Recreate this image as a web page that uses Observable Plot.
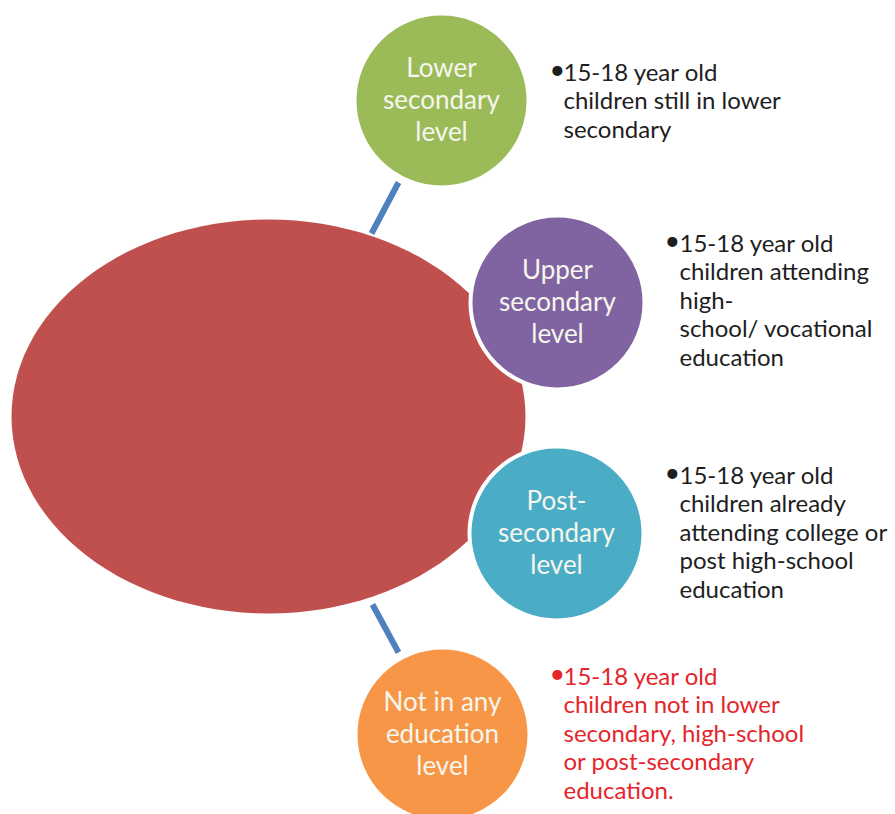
<!DOCTYPE html>
<html>
<head>
<meta charset="utf-8">
<script src="https://cdn.jsdelivr.net/npm/d3@7"></script>
<script src="https://cdn.jsdelivr.net/npm/@observablehq/plot@0.6"></script>
<style>
  html, body { margin: 0; padding: 0; background: #ffffff; }
  #chart svg { display: block; }
</style>
</head>
<body>
<div id="chart"></div>
<script>
// ---- content ----
const levels = ["Lower\nsecondary\nlevel", "Upper\nsecondary\nlevel", "Post-\nsecondary\nlevel", "Not in any\neducation\nlevel"];
const descriptions = [
  "15-18 year old\nchildren still in lower\nsecondary",
  "15-18 year old\nchildren attending\nhigh-\nschool/ vocational\neducation",
  "15-18 year old\nchildren already\nattending college or\npost high-school\neducation",
  "15-18 year old\nchildren not in lower\nsecondary, high-school\nor post-secondary\neducation."
];
const highlighted = [false, false, false, true];

// ---- layout (diagram geometry, kept apart from content) ----
const circleX = [441, 557, 556, 442];
const circleY = [100, 302, 533, 734];
const labelY = [98, 300, 531, 732];
const circleR = 87;
const circleColors = ["#9bbb59", "#8064a2", "#4bacc6", "#f79646"];
const bulletX = [549, 664, 664, 549];
const textX = [563, 679, 679, 563];
const textTop = [60, 231, 463, 664];
const hub = {cx: 268, cy: 416, rx: 257, ry: 197, color: "#c0504d"};
const connectors = [
  {x1: 371, y1: 233, x2: 398, y2: 182},
  {x1: 372, y1: 604, x2: 398, y2: 652}
];

const nodes = levels.map((label, i) => ({
  label, x: circleX[i], y: circleY[i], ly: labelY[i], color: circleColors[i],
  desc: descriptions[i], bx: bulletX[i], tx: textX[i], ty: textTop[i],
  tcolor: highlighted[i] ? "#e5252a" : "#1e1e1e"
}));

// ellipse outline for the hub shape
const hubPts = d3.range(0, 361, 3).map(a => {
  const t = a * Math.PI / 180;
  return {x: hub.cx + hub.rx * Math.cos(t), y: hub.cy + hub.ry * Math.sin(t)};
});

const FONT = "Lato, 'Open Sans', sans-serif";

const chart = Plot.plot({
  width: 895,
  height: 814,
  margin: 0,
  style: {fontFamily: FONT, background: "#ffffff"},
  x: {domain: [0, 895], range: [0, 895], axis: null},
  y: {domain: [0, 814], range: [0, 814], axis: null},
  r: {type: "identity"},
  marks: [
    Plot.line(hubPts, {x: "x", y: "y", fill: hub.color, stroke: "none"}),
    Plot.link(connectors, {x1: "x1", y1: "y1", x2: "x2", y2: "y2", stroke: "#4f81bd", strokeWidth: 6}),
    Plot.dot(nodes, {x: "x", y: "y", r: circleR, fill: "color", stroke: "#ffffff", strokeWidth: 4}),
    Plot.text(nodes, {x: "x", y: "ly", text: "label", fill: "#f6f6ee", fontSize: 26, lineHeight: 1.23, textAnchor: "middle", lineAnchor: "middle"}),
    Plot.text(nodes, {x: "bx", y: "ty", text: () => "•", fill: "tcolor", fontSize: 27, textAnchor: "start", lineAnchor: "top", dy: -1}),
    Plot.text(nodes, {x: "tx", y: "ty", text: "desc", fill: "tcolor", fontSize: 24, lineHeight: 1.19, textAnchor: "start", lineAnchor: "top"})
  ]
});

document.getElementById("chart").appendChild(chart);
</script>
</body>
</html>
